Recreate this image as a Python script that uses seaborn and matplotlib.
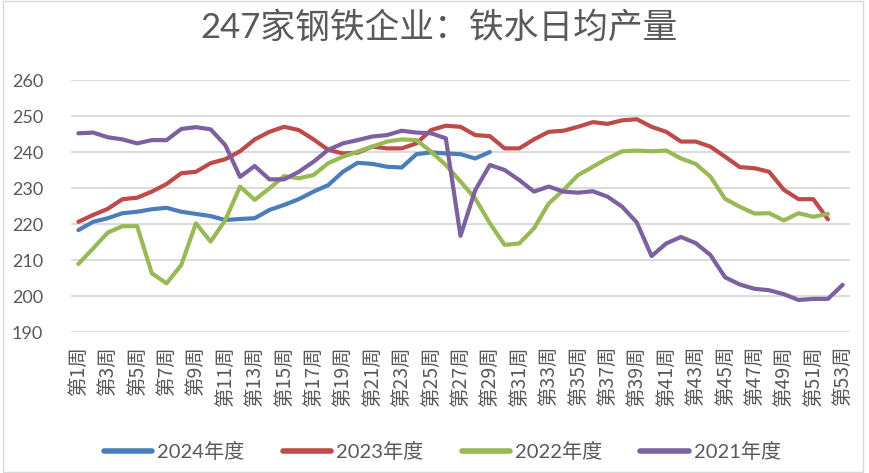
import matplotlib
matplotlib.use("Agg")
import matplotlib.pyplot as plt
import seaborn as sns
import pandas as pd
import numpy as np
from matplotlib.lines import Line2D

weeks = [f"第{i}周" for i in range(1, 54)]
series_names = ["2024年度", "2023年度", "2022年度", "2021年度"]
colors = ["#4A7EBB", "#BE4B48", "#98B954", "#7D60A0"]

v2024 = [218.3, 220.6, 221.6, 223.0, 223.4, 224.1, 224.5, 223.4, 222.8, 222.2,
         221.1, 221.4, 221.6, 223.9, 225.3, 226.9, 229.0, 230.8, 234.5, 237.0,
         236.7, 235.9, 235.7, 239.4, 239.9, 239.6, 239.4, 238.2, 240.0]
v2023 = [220.6, 222.5, 224.2, 226.9, 227.3, 229.0, 231.1, 234.1, 234.5, 236.9,
         238.0, 240.2, 243.5, 245.6, 247.0, 246.1, 243.5, 240.6, 239.6, 239.8,
         241.5, 241.0, 241.0, 242.4, 246.1, 247.3, 247.0, 244.7, 244.4, 241.0,
         241.0, 243.5, 245.6, 245.9, 247.0, 248.3, 247.8, 248.8, 249.1, 247.0,
         245.6, 242.9, 242.9, 241.5, 238.7, 235.8, 235.5, 234.5, 229.5, 226.9,
         226.9, 221.3]
v2022 = [208.9, 213.2, 217.6, 219.4, 219.4, 206.3, 203.5, 208.6, 220.2, 215.1,
         221.1, 230.4, 226.7, 229.9, 233.3, 232.7, 233.6, 236.9, 238.7, 240.1,
         241.5, 242.9, 243.5, 243.3, 240.1, 236.4, 231.8, 227.1, 220.2, 214.2,
         214.6, 218.8, 225.7, 229.4, 233.6, 235.9, 238.2, 240.2, 240.4, 240.2,
         240.4, 238.2, 236.7, 233.2, 227.0, 224.8, 222.9, 223.0, 221.0, 223.0,
         222.0, 222.8]
v2021 = [245.2, 245.4, 244.1, 243.5, 242.4, 243.3, 243.3, 246.4, 246.9, 246.3,
         241.9, 233.1, 236.1, 232.4, 232.4, 234.5, 237.3, 240.6, 242.4, 243.3,
         244.3, 244.7, 245.9, 245.4, 245.2, 243.8, 216.7, 229.4, 236.4, 235.0,
         232.2, 229.0, 230.4, 229.0, 228.7, 229.1, 227.6, 224.8, 220.4, 211.1,
         214.6, 216.4, 214.7, 211.4, 205.2, 203.2, 202.0, 201.6, 200.5, 198.9,
         199.2, 199.2, 203.1]
yticks = [190, 200, 210, 220, 230, 240, 250, 260]

rows = []
for name, vals in zip(series_names, [v2024, v2023, v2022, v2021]):
    for i, v in enumerate(vals):
        rows.append({"week_idx": i, "value": v, "series": name})
df = pd.DataFrame(rows)

sns.set_theme(style="white")
plt.rcParams["font.family"] = ["Lato", "Noto Sans CJK SC", "DejaVu Sans"]

fig = plt.figure(figsize=(8.69, 4.73), dpi=100)
ax = fig.add_axes([71 / 869, 1 - 332 / 473, (850 - 71) / 869, (332 - 80) / 473])

sns.lineplot(data=df, x="week_idx", y="value", hue="series",
             hue_order=series_names, palette=colors, linewidth=3.0,
             ax=ax, legend=False, sort=False)

ax.set_xlim(-0.5, 52.5)
ax.set_ylim(190, 260)
ax.set_yticks(yticks)
ax.set_yticklabels([str(t) for t in yticks], fontsize=13, color="#595959")
ax.yaxis.grid(True, color="#D9D9D9", linewidth=1.3)
ax.xaxis.grid(False)
ax.set_axisbelow(True)
for s in ax.spines.values():
    s.set_visible(False)

xt = list(range(0, 53, 2))
ax.set_xticks(xt)
ax.set_xticklabels([weeks[i] for i in xt], rotation=90, fontsize=14,
                   color="#595959", family=["Noto Sans CJK SC", "DejaVu Sans"])
ax.tick_params(axis="both", length=0)
ax.tick_params(axis="y", pad=20)
ax.tick_params(axis="x", pad=10)
ax.set_xlabel("")
ax.set_ylabel("")

fig.text(0.505, 0.943, "247家钢铁企业：铁水日均产量", ha="center", va="center",
         fontsize=25, color="#595959",
         family=["Lato", "Noto Sans CJK SC", "DejaVu Sans"])

handles = [Line2D([0], [0], color=c, linewidth=4) for c in colors]
fig.legend(handles, series_names, loc="center", bbox_to_anchor=(0.509, 0.045),
           ncol=4, frameon=False, handlelength=2.4,
           handletextpad=0.25, columnspacing=1.9,
           prop={"family": ["Lato", "Noto Sans CJK SC"], "size": 14.5})
for t in fig.legends[0].get_texts():
    t.set_color("#595959")

# chart border
fig.add_artist(plt.Rectangle((3 / 869, 0.002), 860 / 869, 0.996, fill=False,
                             edgecolor="#D9D9D9", linewidth=1.0,
                             transform=fig.transFigure))

fig.savefig("out.png", dpi=100)
